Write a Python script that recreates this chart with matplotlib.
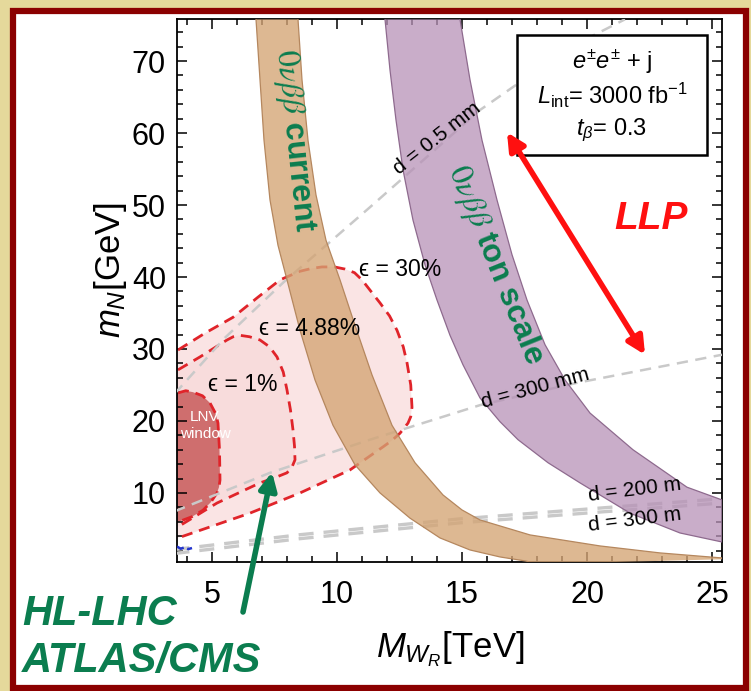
import matplotlib
matplotlib.use("Agg")
import matplotlib.pyplot as plt
from matplotlib.patches import Rectangle
from matplotlib.ticker import MultipleLocator
import numpy as np

plt.rcParams["font.family"] = ["Liberation Sans", "DejaVu Sans"]
plt.rcParams["mathtext.fontset"] = "custom"
plt.rcParams["mathtext.rm"] = "Liberation Sans"
plt.rcParams["mathtext.it"] = "Liberation Sans:italic"
plt.rcParams["mathtext.bf"] = "Liberation Sans:bold"

# ---- 0vbb current band (M_WR [TeV], m_N [GeV]) ----
cur_lo_x = [6.76, 6.92, 7.08, 7.32, 7.64, 8.00, 8.52, 9.12, 9.84, 10.72, 11.72, 12.92, 14.12, 15.32, 16.52, 17.52, 18.12]
cur_lo_y = [75.8, 67.4, 59.0, 50.7, 44.4, 39.6, 32.6, 25.7, 19.4, 13.9, 10.0, 6.5, 3.75, 2.08, 1.11, 0.56, 0.14]
cur_hi_x = [8.44, 8.60, 8.84, 9.16, 9.56, 10.12, 10.72, 11.40, 12.20, 13.12, 14.24, 15.00, 15.72, 17.72, 20.52, 22.92, 25.40, 25.92]
cur_hi_y = [75.8, 67.4, 59.0, 51.4, 45.1, 39.6, 33.3, 26.4, 19.4, 14.2, 9.72, 7.64, 6.25, 4.17, 2.64, 1.67, 0.97, 0.83]

# ---- 0vbb ton-scale band ----
ton_lo_x = [11.92, 12.12, 12.36, 12.64, 13.04, 13.52, 14.00, 14.52, 15.04, 15.72, 16.52, 17.24, 18.44, 19.72, 21.72, 23.72, 25.40, 26.12]
ton_lo_y = [75.8, 68.75, 61.8, 54.9, 47.9, 41.7, 36.8, 31.9, 27.8, 23.2, 19.9, 17.4, 14.2, 11.4, 7.2, 4.44, 3.19, 2.78]
ton_hi_x = [14.92, 15.32, 15.80, 16.40, 17.00, 17.60, 18.32, 19.12, 20.12, 21.84, 24.00, 25.40, 26.12]
ton_hi_y = [75.8, 67.4, 59.0, 50.7, 43.1, 36.8, 30.6, 25.7, 21.1, 16.0, 10.8, 9.03, 8.47]

# ---- HL-LHC reach contours ----
eps30_x = [3.50, 3.64, 4.72, 5.84, 6.84, 7.72, 8.52, 9.00, 9.40, 9.90, 10.32, 10.70, 11.00, 11.72,
           12.10, 12.40, 12.65, 12.80, 12.95, 13.00, 12.95, 12.84, 12.52, 12.20, 11.84, 10.52, 8.52, 6.52, 3.64, 3.50]
eps30_y = [29.6, 29.86, 32.2, 34.4, 37.2, 39.6, 40.8, 41.2, 41.4, 41.4, 41.1, 40.6, 39.6, 36.4,
           34.6, 32.6, 30.3, 28.1, 25.0, 21.9, 20.6, 19.7, 18.3, 17.3, 16.4, 13.2, 10.0, 7.2, 3.75, 3.6]
eps488_x = [3.50, 3.64, 4.52, 5.60, 5.85, 6.12, 6.50, 6.92, 7.30, 7.60, 7.85, 8.00, 8.14, 8.24,
            8.30, 8.32, 8.20, 8.00, 7.50, 6.92, 5.20, 3.64, 3.50]
eps488_y = [26.9, 27.1, 28.9, 31.25, 31.7, 31.9, 31.7, 31.25, 30.3, 28.9, 26.8, 24.3, 21.5, 18.75,
            16.5, 14.6, 13.6, 12.8, 12.1, 11.4, 8.6, 5.3, 5.2]
eps1_x = [3.50, 3.64, 3.95, 4.24, 4.62, 4.92, 5.15, 5.24, 5.30, 5.32, 5.28, 5.20, 4.95, 4.64, 4.20, 3.64, 3.50]
eps1_y = [23.9, 23.9, 24.2, 24.0, 23.5, 22.5, 21.0, 19.7, 16.0, 11.8, 10.8, 10.0, 8.7, 7.6, 6.7, 5.97, 5.9]

# ---- decay-length contours ----
d05mm_x = [3.50, 3.64, 5.50, 7.84, 11.32, 15.72, 19.32, 21.52]
d05mm_y = [23.8, 24.3, 31.5, 39.2, 49.7, 63.2, 71.9, 75.8]
d300mm_x = [3.50, 3.64, 7.32, 11.32, 15.72, 19.60, 25.40]
d300mm_y = [7.4, 7.64, 12.8, 17.4, 22.2, 25.3, 29.2]
d200m_x = [3.50, 3.64, 8.52, 14.92, 20.52, 25.40]
d200m_y = [2.15, 2.2, 4.2, 6.4, 7.9, 9.2]
d300m_x = [3.50, 3.64, 8.52, 14.92, 20.52, 25.40]
d300m_y = [1.6, 1.65, 3.65, 5.85, 7.35, 8.6]
blue_x = [3.60, 3.75, 3.90, 4.05, 4.20]
blue_y = [2.55, 2.25, 2.45, 2.2, 2.35]

W, H = 751, 691
fig = plt.figure(figsize=(W / 100, H / 100), dpi=100)
fig.patch.set_facecolor("#E5D99B")
fig.patches.append(Rectangle((12.5 / W, 3.5 / H), (746 - 12.5) / W, (680 - 3.5) / H,
                             transform=fig.transFigure, facecolor="white",
                             edgecolor="#8B0000", lw=4.5, zorder=-10))

ax = fig.add_axes([177 / W, (H - 561.7) / H, (722 - 177) / W, (561.7 - 19.3) / H])
ax.set_zorder(1)
ax.set_xlim(3.6, 25.4)
ax.set_ylim(0.45, 75.8)

# reach regions
ax.fill(eps30_x, eps30_y, color="#F4C4C4", alpha=0.45, lw=0, zorder=1)
ax.fill(eps488_x, eps488_y, color="#F4C4C4", alpha=0.22, lw=0, zorder=1.1)
ax.fill(eps1_x, eps1_y, color="#C24A4A", alpha=0.75, lw=0, zorder=1.2)
for xs, ys in [(eps30_x, eps30_y), (eps488_x, eps488_y), (eps1_x, eps1_y)]:
    ax.plot(xs[1:-1], ys[1:-1], color="#E0242A", lw=2.0, dashes=(4, 2.5), zorder=2,
            solid_joinstyle="round")

# decay-length lines
for xs, ys, lw in [(d05mm_x, d05mm_y, 1.8), (d300mm_x, d300mm_y, 1.8),
                   (d200m_x, d200m_y, 2.4), (d300m_x, d300m_y, 2.4)]:
    ax.plot(xs, ys, color="#C9C9C9", lw=lw, dashes=(4.5, 3), zorder=3)
ax.plot(blue_x, blue_y, color="#2233CC", lw=1.8, dashes=(3, 1.5), zorder=3)

# 0vbb bands
ax.fill(np.concatenate([cur_lo_x, cur_hi_x[::-1]]),
        np.concatenate([cur_lo_y, cur_hi_y[::-1]]),
        color="#D4A474", alpha=0.78, lw=0, zorder=4)
ax.plot(cur_lo_x, cur_lo_y, color="#B5875E", lw=0.9, zorder=4.1)
ax.plot(cur_hi_x, cur_hi_y, color="#B5875E", lw=0.9, zorder=4.1)
ax.fill(np.concatenate([ton_lo_x, ton_hi_x[::-1]]),
        np.concatenate([ton_lo_y, ton_hi_y[::-1]]),
        color="#B792B7", alpha=0.75, lw=0, zorder=4)
ax.plot(ton_lo_x, ton_lo_y, color="#8E6A8E", lw=0.9, zorder=4.1)
ax.plot(ton_hi_x, ton_hi_y, color="#8E6A8E", lw=0.9, zorder=4.1)

# axes styling
ax.xaxis.set_major_locator(MultipleLocator(5))
ax.xaxis.set_minor_locator(MultipleLocator(1))
ax.yaxis.set_major_locator(MultipleLocator(10))
ax.yaxis.set_minor_locator(MultipleLocator(2))
ax.tick_params(which="both", direction="in", top=True, right=True, width=1.1, labelsize=22)
ax.tick_params(axis="y", pad=8)
ax.tick_params(axis="x", pad=13)
ax.tick_params(which="major", length=7)
ax.tick_params(which="minor", length=4)
for s in ax.spines.values():
    s.set_linewidth(1.3)
ax.set_xlabel(r"$M_{W_R}$[TeV]", fontsize=25)
ax.set_ylabel(r"$m_N$[GeV]", fontsize=25)
ax.xaxis.set_label_coords(0.501, -0.124)
ax.yaxis.set_label_coords(-0.088, 0.538)

# labels on the plot
green = "#0B7D4F"
ax.text(8.28, 58.9, r"$\mathit{0}\nu\beta\beta$ current", rotation=-84, color=green, fontsize=23,
        fontweight="bold", math_fontfamily="stix", ha="center", va="center", zorder=6)
ax.text(16.32, 41.7, r"$\mathit{0}\nu\beta\beta$ ton scale", rotation=-68, color=green, fontsize=23,
        fontweight="bold", math_fontfamily="stix", ha="center", va="center", zorder=6)
ax.text(12.52, 41.0, "ϵ = 30%", fontsize=16.5, ha="center", va="center", zorder=6)
ax.text(8.92, 32.9, "ϵ = 4.88%", fontsize=16.5, ha="center", va="center", zorder=6)
ax.text(6.24, 25.0, "ϵ = 1%", fontsize=16.5, ha="center", va="center", zorder=6)
ax.text(4.72, 19.4, "LNV\nwindow", fontsize=11, color="white", ha="center", va="center",
        linespacing=1.25, zorder=6)
ax.text(14.0, 59.3, "d = 0.5 mm", rotation=38, fontsize=15, ha="center", va="center", zorder=6)
ax.text(17.92, 24.6, "d = 300 mm", rotation=15, fontsize=15, ha="center", va="center", zorder=6)
ax.text(21.92, 10.4, "d = 200 m", rotation=7, fontsize=15, ha="center", va="center", zorder=6)
ax.text(21.92, 6.25, "d = 300 m", rotation=7, fontsize=15, ha="center", va="center", zorder=6)

# info box
ax.add_patch(Rectangle((0.624, 0.75), 0.972 - 0.624, 0.971 - 0.75, transform=ax.transAxes,
                       facecolor="white", edgecolor="black", lw=1.8, zorder=7))
ax.text(0.798, 0.921, r"$e^{\pm}e^{\pm}$ + j", transform=ax.transAxes, fontsize=17,
        ha="center", va="center", zorder=8)
ax.text(0.798, 0.860, r"$L_{\rm int}$= 3000 fb$^{-1}$", transform=ax.transAxes, fontsize=17,
        ha="center", va="center", zorder=8)
ax.text(0.798, 0.796, r"$t_{\beta}$= 0.3", transform=ax.transAxes, fontsize=17,
        ha="center", va="center", zorder=8)

# LLP arrow
ax.annotate("", xy=(16.8, 60.1), xytext=(22.32, 29.2),
            arrowprops=dict(arrowstyle="<|-|>", lw=4, color="#FF1010", mutation_scale=26,
                            shrinkA=0, shrinkB=0), zorder=8)
ax.text(22.56, 48.1, "LLP", color="#FF1010", fontsize=28, fontweight="bold", style="italic",
        ha="center", va="center", zorder=8)

# HL-LHC label and arrow
fig.text(22 / W, (H - 625) / H, "HL-LHC", color=green, fontsize=30, fontweight="bold",
         style="italic", ha="left", va="baseline")
fig.text(22 / W, (H - 672) / H, "ATLAS/CMS", color=green, fontsize=30, fontweight="bold",
         style="italic", ha="left", va="baseline")
ax.annotate("", xy=(7.4, 12.9), xytext=(243 / W, (H - 612) / H), textcoords="figure fraction",
            arrowprops=dict(arrowstyle="-|>", lw=4, color=green, mutation_scale=26,
                            shrinkA=0, shrinkB=0), annotation_clip=False, zorder=8)

fig.savefig("out.png", dpi=100, facecolor=fig.get_facecolor())
